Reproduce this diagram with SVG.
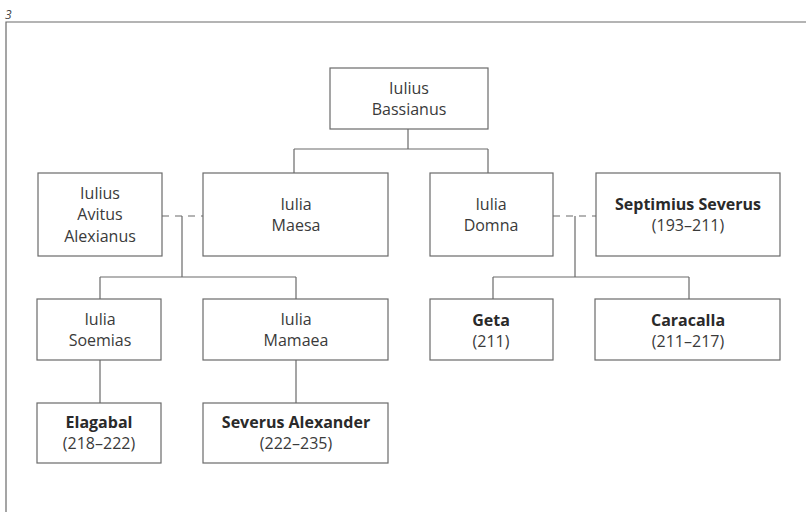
<svg xmlns="http://www.w3.org/2000/svg" width="806" height="515" viewBox="0 0 806 515">
<style>
.box{fill:#fff;stroke:#6a6a6a;stroke-width:1.2}
.t{font-family:"Open Sans","Liberation Sans",sans-serif;font-size:16px;fill:#3a3a3a;text-anchor:middle}
.b{font-weight:bold;fill:#2a2a2a}
.ln{fill:none;stroke:#6a6a6a;stroke-width:1.2}
.dash{stroke-dasharray:7,6}
</style>
<rect width="806" height="515" fill="#fff"/>
<text x="5" y="19" font-family="Open Sans, Liberation Sans, sans-serif" font-size="12" font-style="italic" fill="#444">3</text>
<path class="ln" d="M6,512 V22 H806"/>
<g id="connectors">
<path class="ln" d="M408,129 V149 M294,149 H488 M294,149 V173 M488,149 V173"/>
<path class="ln dash" d="M162,216 H203"/>
<path class="ln" d="M182,216 V277 M100,277 H296 M100,277 V299 M296,277 V299"/>
<path class="ln" d="M100,360 V403 M296,360 V403"/>
<path class="ln dash" d="M553,216 H596"/>
<path class="ln" d="M575,216 V277 M493,277 H689 M493,277 V299 M689,277 V299"/>
</g>
<g id="bassianus"><rect class="box" x="330" y="68" width="158" height="61"/><text class="t" x="409" y="94">Iulius</text><text class="t" x="409" y="115">Bassianus</text></g>
<g id="avitus"><rect class="box" x="38" y="173" width="124" height="83"/><text class="t" x="100" y="199">Iulius</text><text class="t" x="100" y="220">Avitus</text><text class="t" x="100" y="242">Alexianus</text></g>
<g id="maesa"><rect class="box" x="203" y="173" width="185" height="83"/><text class="t" x="296" y="210">Iulia</text><text class="t" x="296" y="231">Maesa</text></g>
<g id="domna"><rect class="box" x="430" y="173" width="123" height="83"/><text class="t" x="491" y="210">Iulia</text><text class="t" x="491" y="231">Domna</text></g>
<g id="septimius"><rect class="box" x="596" y="173" width="184" height="83"/><text class="t b" x="688" y="210">Septimius Severus</text><text class="t" x="688" y="231">(193–211)</text></g>
<g id="soemias"><rect class="box" x="37" y="299" width="124" height="61"/><text class="t" x="100" y="325">Iulia</text><text class="t" x="100" y="346">Soemias</text></g>
<g id="mamaea"><rect class="box" x="203" y="299" width="185" height="61"/><text class="t" x="296" y="325">Iulia</text><text class="t" x="296" y="346">Mamaea</text></g>
<g id="geta"><rect class="box" x="430" y="299" width="123" height="61"/><text class="t b" x="491" y="326">Geta</text><text class="t" x="491" y="347">(211)</text></g>
<g id="caracalla"><rect class="box" x="595" y="299" width="185" height="61"/><text class="t b" x="688" y="326">Caracalla</text><text class="t" x="688" y="347">(211–217)</text></g>
<g id="elagabal"><rect class="box" x="37" y="403" width="124" height="60"/><text class="t b" x="99" y="428">Elagabal</text><text class="t" x="99" y="449">(218–222)</text></g>
<g id="severusalexander"><rect class="box" x="203" y="403" width="185" height="60"/><text class="t b" x="296" y="428">Severus Alexander</text><text class="t" x="296" y="449">(222–235)</text></g>
</svg>
